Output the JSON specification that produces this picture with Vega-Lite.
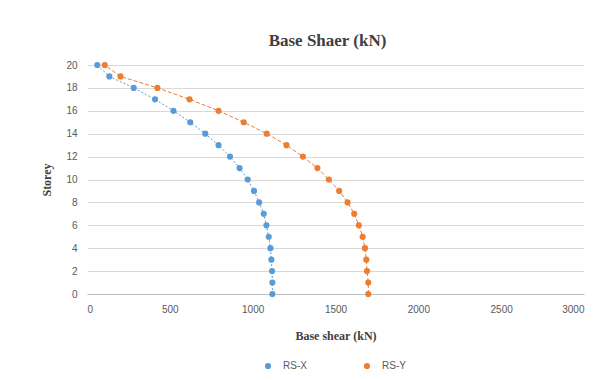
{
  "$schema": "https://vega.github.io/schema/vega-lite/v6.json",
  "width": 497,
  "height": 229,
  "autosize": "none",
  "padding": {"left": 87, "top": 65, "right": 31, "bottom": 86},
  "background": "white",
  "title": {"text": "Base Shaer (kN)", "font": "Liberation Serif", "fontSize": 17, "fontWeight": "bold", "color": "#404040", "anchor": "middle", "dx": -8, "offset": 10},
  "data": {"values": [
    {"series": "RS-X", "storey": 20, "shear": 62},
    {"series": "RS-X", "storey": 19, "shear": 135},
    {"series": "RS-X", "storey": 18, "shear": 282},
    {"series": "RS-X", "storey": 17, "shear": 411},
    {"series": "RS-X", "storey": 16, "shear": 522},
    {"series": "RS-X", "storey": 15, "shear": 623},
    {"series": "RS-X", "storey": 14, "shear": 714},
    {"series": "RS-X", "storey": 13, "shear": 794},
    {"series": "RS-X", "storey": 12, "shear": 863},
    {"series": "RS-X", "storey": 11, "shear": 921},
    {"series": "RS-X", "storey": 10, "shear": 970},
    {"series": "RS-X", "storey": 9, "shear": 1008},
    {"series": "RS-X", "storey": 8, "shear": 1039},
    {"series": "RS-X", "storey": 7, "shear": 1067},
    {"series": "RS-X", "storey": 6, "shear": 1083},
    {"series": "RS-X", "storey": 5, "shear": 1097},
    {"series": "RS-X", "storey": 4, "shear": 1107},
    {"series": "RS-X", "storey": 3, "shear": 1113},
    {"series": "RS-X", "storey": 2, "shear": 1117},
    {"series": "RS-X", "storey": 1, "shear": 1119},
    {"series": "RS-X", "storey": 0, "shear": 1119},
    {"series": "RS-Y", "storey": 20, "shear": 107},
    {"series": "RS-Y", "storey": 19, "shear": 202},
    {"series": "RS-Y", "storey": 18, "shear": 425},
    {"series": "RS-Y", "storey": 17, "shear": 619},
    {"series": "RS-Y", "storey": 16, "shear": 794},
    {"series": "RS-Y", "storey": 15, "shear": 946},
    {"series": "RS-Y", "storey": 14, "shear": 1085},
    {"series": "RS-Y", "storey": 13, "shear": 1204},
    {"series": "RS-Y", "storey": 12, "shear": 1303},
    {"series": "RS-Y", "storey": 11, "shear": 1391},
    {"series": "RS-Y", "storey": 10, "shear": 1460},
    {"series": "RS-Y", "storey": 9, "shear": 1522},
    {"series": "RS-Y", "storey": 8, "shear": 1573},
    {"series": "RS-Y", "storey": 7, "shear": 1613},
    {"series": "RS-Y", "storey": 6, "shear": 1641},
    {"series": "RS-Y", "storey": 5, "shear": 1664},
    {"series": "RS-Y", "storey": 4, "shear": 1678},
    {"series": "RS-Y", "storey": 3, "shear": 1686},
    {"series": "RS-Y", "storey": 2, "shear": 1690},
    {"series": "RS-Y", "storey": 1, "shear": 1698},
    {"series": "RS-Y", "storey": 0, "shear": 1698}
  ]},
  "encoding": {
    "x": {"field": "shear", "type": "quantitative", "scale": {"domain": [0, 3000], "nice": false},
      "axis": {"values": [0, 500, 1000, 1500, 2000, 2500, 3000], "format": "d", "title": "Base shear (kN)", "grid": false, "ticks": false, "domain": true, "domainColor": "#bfbfbf", "labelPadding": 10, "titlePadding": 16}},
    "y": {"field": "storey", "type": "quantitative", "scale": {"domain": [0, 20], "nice": false},
      "axis": {"values": [0, 2, 4, 6, 8, 10, 12, 14, 16, 18, 20], "title": "Storey", "grid": true, "gridColor": "#d9d9d9", "ticks": false, "domain": false, "labelPadding": 10, "titlePadding": 12}},
    "color": {"field": "series", "type": "nominal", "scale": {"domain": ["RS-X", "RS-Y"], "range": ["#5b9bd5", "#ed7d31"]},
      "legend": {"orient": "none", "legendX": 176, "legendY": 296, "direction": "horizontal", "title": null, "symbolType": "circle"}}
  },
  "layer": [
    {"mark": {"type": "line", "strokeWidth": 1},
     "encoding": {
       "strokeDash": {"field": "series", "type": "nominal", "scale": {"domain": ["RS-X", "RS-Y"], "range": [[2, 2], [4, 2]]}, "legend": null},
       "order": {"field": "storey", "type": "quantitative"}
     }},
    {"mark": {"type": "point", "filled": true, "opacity": 1, "size": 38, "shape": "circle"}}
  ],
  "config": {
    "view": {"stroke": null},
    "axis": {"labelFont": "Liberation Sans", "labelFontSize": 10, "labelColor": "#595959", "titleFont": "Liberation Serif", "titleFontSize": 12, "titleFontWeight": "bold", "titleColor": "#404040"},
    "legend": {"labelFont": "Liberation Sans", "labelFontSize": 10, "labelColor": "#595959", "symbolSize": 38, "symbolStrokeWidth": 0, "columnPadding": 55, "labelOffset": 10}
  }
}
